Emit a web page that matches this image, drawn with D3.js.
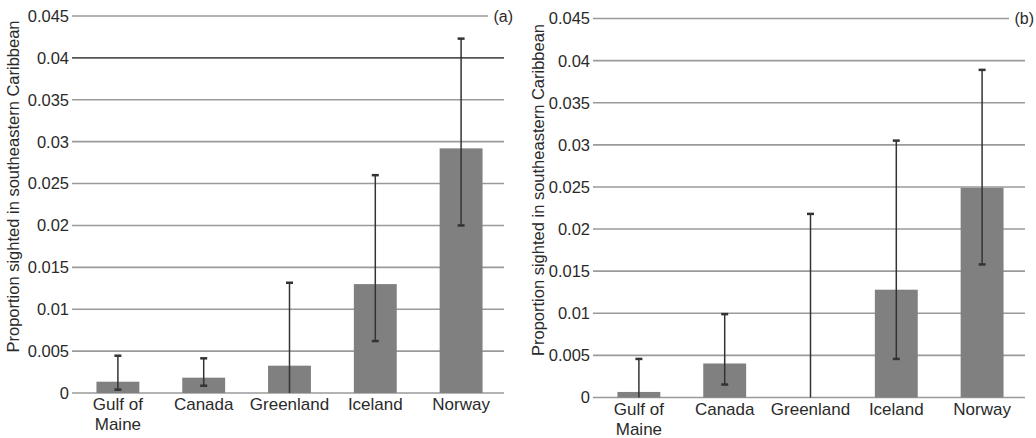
<!DOCTYPE html>
<html><head><meta charset="utf-8">
<script src="https://cdn.jsdelivr.net/npm/d3@7"></script>
<style>
html,body{margin:0;padding:0;background:#fff;}
text{font-family:"Liberation Sans",Arial,sans-serif;}
</style></head>
<body><svg id="chart" width="1036" height="438"></svg>
<script>
const categories = ["Gulf of Maine", "Canada", "Greenland", "Iceland", "Norway"];
const categoryLines = [["Gulf of", "Maine"], ["Canada"], ["Greenland"], ["Iceland"], ["Norway"]];
const yTicks = [0, 0.005, 0.01, 0.015, 0.02, 0.025, 0.03, 0.035, 0.04, 0.045];
const yTickLabels = ["0", "0.005", "0.01", "0.015", "0.02", "0.025", "0.03", "0.035", "0.04", "0.045"];
const yAxisTitle = "Proportion sighted in southeastern Caribbean";

const valuesA = [0.00135, 0.00183, 0.00326, 0.0130, 0.0292];
const lowerA  = [0.0004, 0.00087, 0.0, 0.0062, 0.0200];
const upperA  = [0.00445, 0.00414, 0.01316, 0.0260, 0.0423];

const valuesB = [0.00066, 0.00404, 0.0, 0.0128, 0.0249];
const lowerB  = [0.0, 0.00154, 0.0, 0.00458, 0.0158];
const upperB  = [0.00458, 0.0099, 0.0218, 0.0305, 0.0389];

const svg = d3.select("#chart");

function panel(opts) {
  const { x0, x1, yTop, yBottom, labelRight, titleX, panelLabel, values, lower, upper, darkTick } = opts;
  const g = svg.append("g");
  const x = d3.scaleBand().domain(categories).range([x0, x1]).paddingInner(0.5).paddingOuter(0.25);
  const y = d3.scaleLinear().domain([0, 0.045]).range([yBottom, yTop]);

  g.selectAll("line.grid").data(yTicks).join("line")
    .attr("x1", x0 - 3)
    .attr("x2", (d) => d === 0.045 ? x1 - 16 : x1)
    .attr("y1", (d) => y(d)).attr("y2", (d) => y(d))
    .attr("stroke", (d) => d === darkTick ? "#555" : "#9a9a9a")
    .attr("stroke-width", 1.6);

  g.selectAll("text.tick").data(yTicks).join("text")
    .attr("x", labelRight).attr("y", (d) => y(d))
    .attr("dy", "0.36em").attr("text-anchor", "end")
    .attr("font-size", 16.5).attr("fill", "#2a2a2a")
    .text((d, i) => yTickLabels[i]);

  g.append("text")
    .attr("transform", `translate(${titleX},${(yTop + yBottom) / 2 - 18}) rotate(-90)`)
    .attr("text-anchor", "middle").attr("font-size", 16.5).attr("fill", "#2a2a2a")
    .text(yAxisTitle);

  g.selectAll("rect.bar").data(categories).join("rect")
    .attr("x", (d) => x(d)).attr("width", x.bandwidth())
    .attr("y", (d, i) => y(values[i]))
    .attr("height", (d, i) => y(0) - y(values[i]))
    .attr("fill", "#808080");

  const eg = g.selectAll("g.err").data(categories).join("g");
  eg.append("line")
    .attr("x1", (d) => x(d) + x.bandwidth() / 2).attr("x2", (d) => x(d) + x.bandwidth() / 2)
    .attr("y1", (d, i) => y(lower[i])).attr("y2", (d, i) => y(upper[i]))
    .attr("stroke", "#333").attr("stroke-width", 1.5);
  eg.append("line")
    .attr("x1", (d) => x(d) + x.bandwidth() / 2 - 3.5).attr("x2", (d) => x(d) + x.bandwidth() / 2 + 3.5)
    .attr("y1", (d, i) => y(upper[i])).attr("y2", (d, i) => y(upper[i]))
    .attr("stroke", "#333").attr("stroke-width", 2.5);
  eg.filter((d, i) => lower[i] > 0).append("line")
    .attr("x1", (d) => x(d) + x.bandwidth() / 2 - 3.5).attr("x2", (d) => x(d) + x.bandwidth() / 2 + 3.5)
    .attr("y1", (d) => y(lower[categories.indexOf(d)])).attr("y2", (d) => y(lower[categories.indexOf(d)]))
    .attr("stroke", "#333").attr("stroke-width", 2.5);

  const xl = g.selectAll("text.xl").data(categories).join("text")
    .attr("x", (d) => x(d) + x.bandwidth() / 2)
    .attr("y", yBottom + 17)
    .attr("text-anchor", "middle").attr("font-size", 17).attr("fill", "#2a2a2a");
  xl.selectAll("tspan").data((d, i) => categoryLines[i]).join("tspan")
    .attr("x", function () { return d3.select(this.parentNode).attr("x"); })
    .attr("dy", (d, j) => j === 0 ? 0 : 20)
    .text((d) => d);

  g.append("text").attr("x", x1 + 9).attr("y", y(0.045)).attr("dy", "0.36em")
    .attr("text-anchor", "end").attr("font-size", 16).attr("fill", "#2a2a2a").text(panelLabel);
}

panel({ x0: 75, x1: 504, yTop: 16, yBottom: 393, labelRight: 69, titleX: 19, panelLabel: "(a)",
        values: valuesA, lower: lowerA, upper: upperA, darkTick: 0.04 });
panel({ x0: 596, x1: 1025, yTop: 18.5, yBottom: 397.5, labelRight: 590, titleX: 544, panelLabel: "(b)",
        values: valuesB, lower: lowerB, upper: upperB, darkTick: null });
</script></body></html>
